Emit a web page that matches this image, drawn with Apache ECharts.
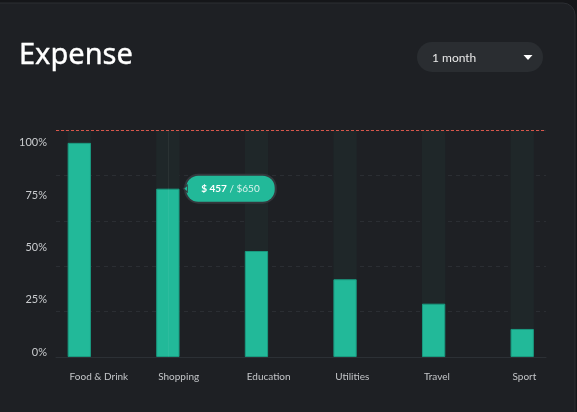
<!DOCTYPE html>
<html><head><meta charset="utf-8">
<script src="https://cdn.jsdelivr.net/npm/echarts@6/dist/echarts.min.js"></script>
<style>html,body{margin:0;padding:0;background:#151619;}#c{width:577px;height:412px;}</style>
</head><body><div id="c"></div>
<script>
const categories = ['Food & Drink', 'Shopping', 'Education', 'Utilities', 'Travel', 'Sport'];
const spentPercent = [100, 78.6, 49.5, 36.3, 24.9, 13.1];
const limitPercent = 106;
const yTicks = [0, 25, 50, 75, 100];
const tipIndex = 1;
const tipSpent = 457;
const tipBudget = 650;

const FONT = 'Lato, "Open Sans", sans-serif';
const chart = echarts.init(document.getElementById('c'), null, {renderer: 'canvas'});

const gTop = 130, gBottom = 55;
const barData = spentPercent.map((v, i) => {
  if (i !== tipIndex) return v;
  return {
    value: v,
    label: {
      show: true,
      position: [30, 0],
      align: 'left',
      verticalAlign: 'middle',
      formatter: '{a|$ ' + tipSpent + '}{b| / $' + tipBudget + '}',
      backgroundColor: '#22b999',
      borderColor: '#34383d',
      borderWidth: 2,
      borderRadius: 12,
      padding: [8, 15, 8, 15],
      rich: {
        a: {color: '#ffffff', fontWeight: 'bold', fontSize: 10, fontFamily: FONT},
        b: {color: '#d9f2ec', fontSize: 10, fontFamily: FONT}
      }
    }
  };
});

const option = {
  backgroundColor: '#151619',
  animation: false,
  graphic: [
    {type: 'rect', z: -10, shape: {x: -20, y: 3, width: 595, height: 440, r: 12},
      style: {fill: '#1e2024', stroke: '#2c2e33', lineWidth: 1}},
    {type: 'text', x: 19, y: 56, style: {text: 'Expense', fill: '#ffffff', font: '29px "Noto Sans", ' + FONT, textVerticalAlign: 'middle', stroke: '#ffffff', lineWidth: 0.4}},
    {type: 'rect', shape: {x: 417, y: 42, width: 126, height: 30, r: 15}, style: {fill: '#2a2d31'}},
    {type: 'text', x: 432, y: 58, style: {text: '1 month', fill: '#e8e8e8', font: '12px ' + FONT, textVerticalAlign: 'middle'}},
    {type: 'polygon', shape: {points: [[523.5, 55], [532.5, 55], [528, 60]]}, style: {fill: '#ffffff'}}
  ],
  grid: [
    {left: 56, right: 31, top: gTop, bottom: gBottom},
    {left: 35, right: 10.5, top: gTop, bottom: gBottom},
    {left: 25.3, right: 20.2, top: gTop, bottom: gBottom},
    {left: 56, right: 31, top: 142.7, bottom: 59.8}
  ],
  xAxis: [
    {type: 'category', gridIndex: 0, data: categories,
      axisLine: {show: true, lineStyle: {color: '#2c3035', width: 1}},
      axisTick: {show: false}, axisLabel: {show: false}, splitLine: {show: false}},
    {type: 'category', gridIndex: 1, data: categories, show: false},
    {type: 'category', gridIndex: 2, data: categories,
      axisLine: {show: false}, axisTick: {show: false}, splitLine: {show: false},
      axisLabel: {show: true, align: 'left', margin: 15, color: '#c3c5c8', fontSize: 10, fontFamily: FONT, interval: 0}},
    {type: 'category', gridIndex: 3, data: categories, show: false}
  ],
  yAxis: [
    {type: 'value', gridIndex: 0, min: 0, max: limitPercent, interval: limitPercent / 5,
      axisLine: {show: false}, axisTick: {show: false}, axisLabel: {show: false},
      splitLine: {show: true, lineStyle: {color: '#2b2e33', type: [4, 4], width: 1}}},
    {type: 'value', gridIndex: 1, min: 0, max: limitPercent, show: false},
    {type: 'value', gridIndex: 2, min: 0, max: limitPercent, show: false},
    {type: 'value', gridIndex: 3, position: 'left', min: 0, max: 100, interval: 25,
      axisLine: {show: false}, axisTick: {show: false}, splitLine: {show: false},
      axisLabel: {show: true, margin: 9, color: '#c9cbce', fontSize: 11, fontFamily: FONT,
        formatter: v => (yTicks.indexOf(v) >= 0 ? v + '%' : '')}}
  ],
  series: [
    {
      type: 'line', xAxisIndex: 0, yAxisIndex: 0, data: [], silent: true,
      markLine: {
        silent: true, symbol: 'none', label: {show: false},
        lineStyle: {color: '#d9574c', type: [3, 2], width: 1},
        data: [{yAxis: limitPercent}]
      }
    },
    {
      type: 'bar', xAxisIndex: 1, yAxisIndex: 1, data: barData, barWidth: 23.3,
      itemStyle: {color: '#22b999', borderColor: '#1a9a80', borderWidth: 1},
      showBackground: true,
      backgroundStyle: {color: '#1f2729'},
      markLine: {
        silent: true, symbol: 'none', label: {show: false},
        lineStyle: {color: 'rgba(255,255,255,0.05)', type: 'solid', width: 1},
        data: [{xAxis: categories[tipIndex]}]
      },
      markPoint: {
        silent: true,
        data: [{coord: [categories[tipIndex], spentPercent[tipIndex]], symbol: 'triangle', symbolRotate: 90,
          symbolSize: [7, 4], symbolOffset: [17.5, 0],
          itemStyle: {color: '#22b999', borderColor: '#34383d', borderWidth: 1}, label: {show: false}}]
      }
    }
  ]
};
chart.setOption(option);
</script></body></html>
